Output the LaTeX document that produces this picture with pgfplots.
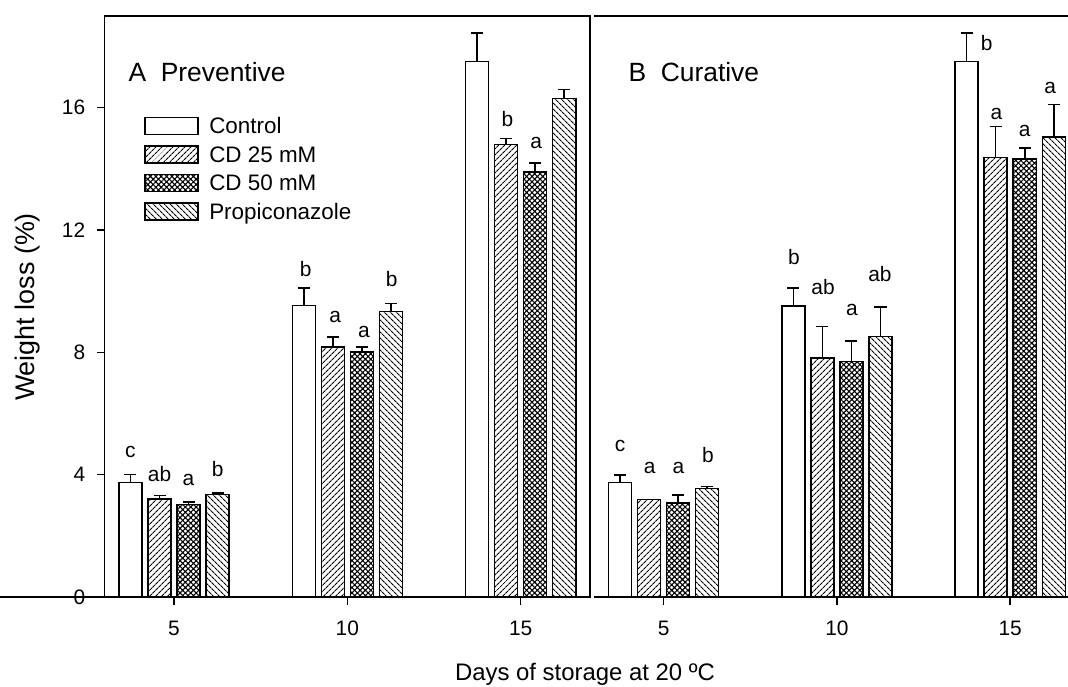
\documentclass[border=0pt]{standalone}
\usepackage{fontspec}
\setmainfont{Liberation Sans}
\usepackage{pgfplots}
\pgfplotsset{compat=1.18}
\usetikzlibrary{patterns.meta}

\tikzset{lt/.style={font=\fontsize{21}{25}\selectfont}}
\pgfplotsset{
  panel/.style={
    scale only axis, height=581bp, ymin=0, ymax=19,
    ybar, bar width=0.665,
    xtick={5,10,15}, ytick={0,4,8,12,16},
    tick align=outside, major tick length=7.5bp,
    axis line style={line width=1.5bp},
    tick style={line width=1.5bp, black},
    tick label style={font=\fontsize{21}{25}\selectfont},
    yticklabel style={xshift=-8.5bp},
    xticklabel style={yshift=-13bp},
    /pgf/number format/assume math mode=true,
    clip=false,
  },
  lg/.style={legend image code/.code={\draw[##1] (0bp,-6.6bp) rectangle (53bp,10.4bp);}},
  eb/.style={error bars/.cd, y dir=plus, y explicit,
    error bar style={line width=1.5bp, black, solid},
    error mark options={line width=1.5bp, black, solid, mark size=6bp, rotate=90}},
  ctrl/.style={draw=black, line width=1.5bp, fill=white, bar shift=-1.257, lg, eb},
  cd25/.style={draw=black, line width=1.5bp, pattern={Lines[angle=45,distance=3.9bp,line width=1.1bp]}, bar shift=-0.419, lg, eb},
  cd50/.style={draw=black, line width=1.5bp, pattern={Hatch[angle=45,distance=3.8bp,line width=1.1bp]}, bar shift=0.419, lg, eb},
  prop/.style={draw=black, line width=1.5bp, pattern={Lines[angle=-45,distance=3.9bp,line width=1.1bp]}, bar shift=1.257, lg, eb},
}

\begin{document}
\begin{tikzpicture}
% A  Preventive
\begin{axis}[panel, at={(104.7bp,90bp)}, width=485.3bp, xmin=3, xmax=17, tick pos=left,
  legend style={at={(axis cs:4.1425,15.75)}, anchor=north west, draw=none, fill=none,
    inner sep=0pt, outer sep=0pt, font=\fontsize{22.5}{27}\selectfont,
    row sep=3.6bp, column sep=8.5bp,
    nodes={text height=16.4bp, text depth=4.6bp}},
  legend cell align=left]
\addplot[ctrl] coordinates {(5,3.75) +- (0,0.25) (10,9.53) +- (0,0.58) (15,17.52) +- (0,0.92)};
\addlegendentry{Control}
\addplot[cd25] coordinates {(5,3.20) +- (0,0.12) (10,8.17) +- (0,0.33) (15,14.80) +- (0,0.19)};
\addlegendentry{CD 25 mM}
\addplot[cd50] coordinates {(5,3.03) +- (0,0.08) (10,8.02) +- (0,0.16) (15,13.90) +- (0,0.29)};
\addlegendentry{CD 50 mM}
\addplot[prop] coordinates {(5,3.35) +- (0,0.05) (10,9.34) +- (0,0.25) (15,16.30) +- (0,0.30)};
\addlegendentry{Propiconazole}
\draw[line width=1.5bp] (axis cs:3,0) -- ++(-7.5bp,0);
\node[anchor=base west, font=\fontsize{26.5}{31}\selectfont] at (axis cs:3.586,16.85) {A\ \ Preventive};
\node[lt] at (axis cs:3.743,4.75) {c};
\node[lt] at (axis cs:4.581,4.02) {ab};
\node[lt] at (axis cs:5.419,3.82) {a};
\node[lt] at (axis cs:6.257,4.20) {b};
\node[lt] at (axis cs:8.80,10.73) {b};
\node[lt] at (axis cs:9.65,9.15) {a};
\node[lt] at (axis cs:10.48,8.66) {a};
\node[lt] at (axis cs:11.28,10.40) {b};
\node[lt] at (axis cs:14.62,15.63) {b};
\node[lt] at (axis cs:15.45,14.84) {a};
\end{axis}
% B  Curative
\begin{axis}[panel, at={(594.3bp,90bp)}, width=473.7bp, xmin=3, xmax=16.667,
  axis x line=box, axis y line=none, xtick pos=left, yticklabels={}]
\addplot[ctrl] coordinates {(5,3.75) +- (0,0.24) (10,9.52) +- (0,0.58) (15,17.51) +- (0,0.93)};
\addplot[cd25] coordinates {(5,3.19) +- (0,0.0) (10,7.82) +- (0,1.03) (15,14.38) +- (0,1.01)};
\addplot[cd50] coordinates {(5,3.07) +- (0,0.26) (10,7.70) +- (0,0.67) (15,14.33) +- (0,0.35)};
\addplot[prop] coordinates {(5,3.55) +- (0,0.07) (10,8.52) +- (0,0.97) (15,15.04) +- (0,1.07)};
\node[anchor=base west, font=\fontsize{26.5}{31}\selectfont] at (axis cs:3.886,16.85) {B\ \ Curative};
\node[lt] at (axis cs:3.743,4.93) {c};
\node[lt] at (axis cs:4.60,4.23) {a};
\node[lt] at (axis cs:5.43,4.23) {a};
\node[lt] at (axis cs:6.28,4.64) {b};
\node[lt] at (axis cs:8.76,11.13) {b};
\node[lt] at (axis cs:9.60,10.13) {ab};
\node[lt] at (axis cs:10.43,9.39) {a};
\node[lt] at (axis cs:11.24,10.55) {ab};
\node[lt] at (axis cs:14.32,18.13) {b};
\node[lt] at (axis cs:14.60,15.81) {a};
\node[lt] at (axis cs:15.42,15.23) {a};
\node[lt] at (axis cs:16.15,16.66) {a};
\end{axis}
\node[rotate=90, font=\fontsize{27}{32}\selectfont] at (28bp,380bp) {Weight loss (\%)};
\node[anchor=base, font=\fontsize{24}{29}\selectfont] at (585bp,6.3bp) {Days of storage at 20 ºC};
\pgfresetboundingbox
\path[use as bounding box] (0,0) rectangle (1068bp,687bp);
\end{tikzpicture}
\end{document}
